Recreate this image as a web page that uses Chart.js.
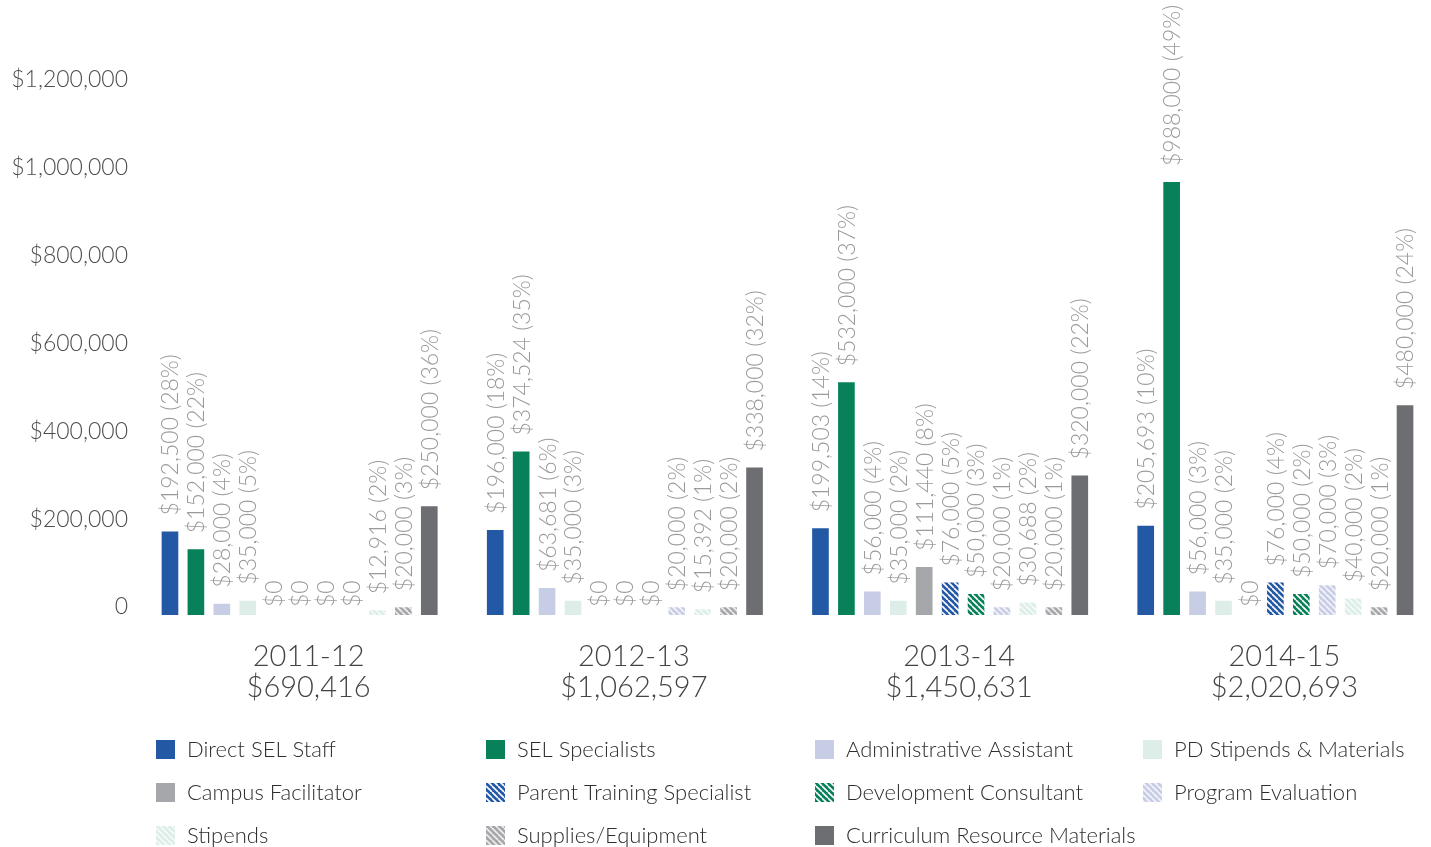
<!DOCTYPE html>
<html>
<head>
<meta charset="utf-8">
<title>SEL Budget by Year</title>
<script src="https://cdn.jsdelivr.net/npm/chart.js@4.4.0/dist/chart.umd.min.js"></script>
<style>
    html, body { margin: 0; padding: 0; background: #fff; overflow: hidden; }
    #wrap { width: 1440px; height: 847px; }
</style>
</head>
<body>
<div id="wrap"><canvas id="budgetChart" width="1440" height="847"></canvas></div>
<script>
// School years
const years = ['2011-12', '2012-13', '2013-14', '2014-15'];

// Spending per budget line, one value per year
const directSelStaff    = [192500, 196000, 199503, 205693];
const selSpecialists    = [152000, 374524, 532000, 988000];
const adminAssistant    = [28000, 63681, 56000, 56000];
const pdStipends        = [35000, 35000, 35000, 35000];
const campusFacilitator = [0, 0, 111440, 0];
const parentTraining    = [0, 0, 76000, 76000];
const devConsultant     = [0, 0, 50000, 50000];
const programEval       = [0, 20000, 20000, 70000];
const stipends          = [12916, 15392, 30688, 40000];
const supplies          = [20000, 20000, 20000, 20000];
const curriculum        = [250000, 338000, 320000, 480000];

// Y axis ticks
const yTickValues = [0, 200000, 400000, 600000, 800000, 1000000, 1200000];
const yTickLabels = ['0', '$200,000', '$400,000', '$600,000', '$800,000', '$1,000,000', '$1,200,000'];

const FONT = 'Lato';

function money(v) {
    return '$' + v.toLocaleString('en-US');
}

const canvas = document.getElementById('budgetChart');
const ctx = canvas.getContext('2d');

function stripes(base, line) {
    const s = 6;
    const tile = document.createElement('canvas');
    tile.width = s;
    tile.height = s;
    const g = tile.getContext('2d');
    g.fillStyle = base;
    g.fillRect(0, 0, s, s);
    g.strokeStyle = line;
    g.lineWidth = 1.6;
    g.beginPath();
    [-s, 0, s].forEach(k => { g.moveTo(k, 0); g.lineTo(k + s, s); });
    g.stroke();
    return ctx.createPattern(tile, 'repeat');
}

const series = [
    { label: 'Direct SEL Staff', data: directSelStaff, color: '#2358a5' },
    { label: 'SEL Specialists', data: selSpecialists, color: '#08805a' },
    { label: 'Administrative Assistant', data: adminAssistant, color: '#c8cde6' },
    { label: 'PD Stipends & Materials', data: pdStipends, color: '#ddeee8' },
    { label: 'Campus Facilitator', data: campusFacilitator, color: '#a6a7aa' },
    { label: 'Parent Training Specialist', data: parentTraining, color: stripes('#2358a5', '#ffffff') },
    { label: 'Development Consultant', data: devConsultant, color: stripes('#08805a', '#ffffff') },
    { label: 'Program Evaluation', data: programEval, color: stripes('#c8cde6', '#f4f5fb') },
    { label: 'Stipends', data: stipends, color: stripes('#ddeee8', '#f7fbf9') },
    { label: 'Supplies/Equipment', data: supplies, color: stripes('#a6a7aa', '#eeeeef') },
    { label: 'Curriculum Resource Materials', data: curriculum, color: '#6d6e71' }
];

const totals = years.map((y, j) => series.reduce((sum, s) => sum + s.data[j], 0));
const categoryLabels = years.map((y, j) => [y, money(totals[j])]);

// Rotated value labels above every bar
const barLabels = {
    id: 'barLabels',
    afterDatasetsDraw(chart) {
        const c = chart.ctx;
        c.save();
        c.font = '300 23px ' + FONT;
        c.fillStyle = '#9a9a9a';
        c.textAlign = 'left';
        c.textBaseline = 'middle';
        chart.data.datasets.forEach((ds, i) => {
            chart.getDatasetMeta(i).data.forEach((bar, j) => {
                const v = ds.data[j];
                const txt = v === 0 ? '$0' : money(v) + ' (' + Math.round(v / totals[j] * 100) + '%)';
                c.save();
                c.translate(bar.x + 1, bar.y - (v === 0 ? 8 : 15));
                c.rotate(-Math.PI / 2);
                c.fillText(txt, 0, 0);
                c.restore();
            });
        });
        c.restore();
    }
};

// Legend laid out as a 4-column grid under the axis
const legendCols = [156, 486, 815, 1143];
const legendRows = [740, 783, 826];
const gridLegend = {
    id: 'gridLegend',
    afterDraw(chart) {
        const c = chart.ctx;
        c.save();
        c.font = '300 22px ' + FONT;
        c.textBaseline = 'middle';
        chart.data.datasets.forEach((ds, i) => {
            const x = legendCols[i % 4];
            const y = legendRows[Math.floor(i / 4)];
            c.fillStyle = ds.backgroundColor;
            c.fillRect(x, y, 19, 19);
            c.fillStyle = '#2e2e2e';
            c.fillText(ds.label, x + 31, y + 10);
        });
        c.restore();
    }
};

new Chart(ctx, {
    type: 'bar',
    data: {
        labels: categoryLabels,
        datasets: series.map(s => ({
            label: s.label,
            data: s.data,
            backgroundColor: s.color,
            borderColor: 'rgba(255,255,255,0.45)',
            borderWidth: 1,
            categoryPercentage: 0.877,
            barPercentage: 0.72
        }))
    },
    options: {
        responsive: false,
        animation: false,
        layout: { padding: { top: 0, right: 2, bottom: 137, left: 0 } },
        plugins: {
            legend: { display: false },
            tooltip: { enabled: false }
        },
        scales: {
            x: {
                grid: { display: false, drawTicks: false },
                border: { display: false },
                ticks: {
                    color: '#444444',
                    font: { family: FONT, size: 29, weight: '300', lineHeight: 1.04 },
                    padding: 27,
                    labelOffset: 9,
                    maxRotation: 0,
                    autoSkip: false
                },
                afterFit: scale => { scale.height = 95; }
            },
            y: {
                min: 0,
                max: 1400000,
                grid: { display: false, drawTicks: false },
                border: { display: false },
                ticks: {
                    stepSize: 200000,
                    color: '#4d4d4d',
                    font: { family: FONT, size: 23, weight: '300' },
                    padding: 9,
                    labelOffset: -8,
                    callback: value => {
                        const i = yTickValues.indexOf(value);
                        return i >= 0 ? yTickLabels[i] : null;
                    }
                },
                afterFit: scale => {
                    scale.width = 137;
                    scale.paddingTop = 0;
                    scale.paddingBottom = 0;
                }
            }
        }
    },
    plugins: [barLabels, gridLegend]
});
</script>
</body>
</html>
